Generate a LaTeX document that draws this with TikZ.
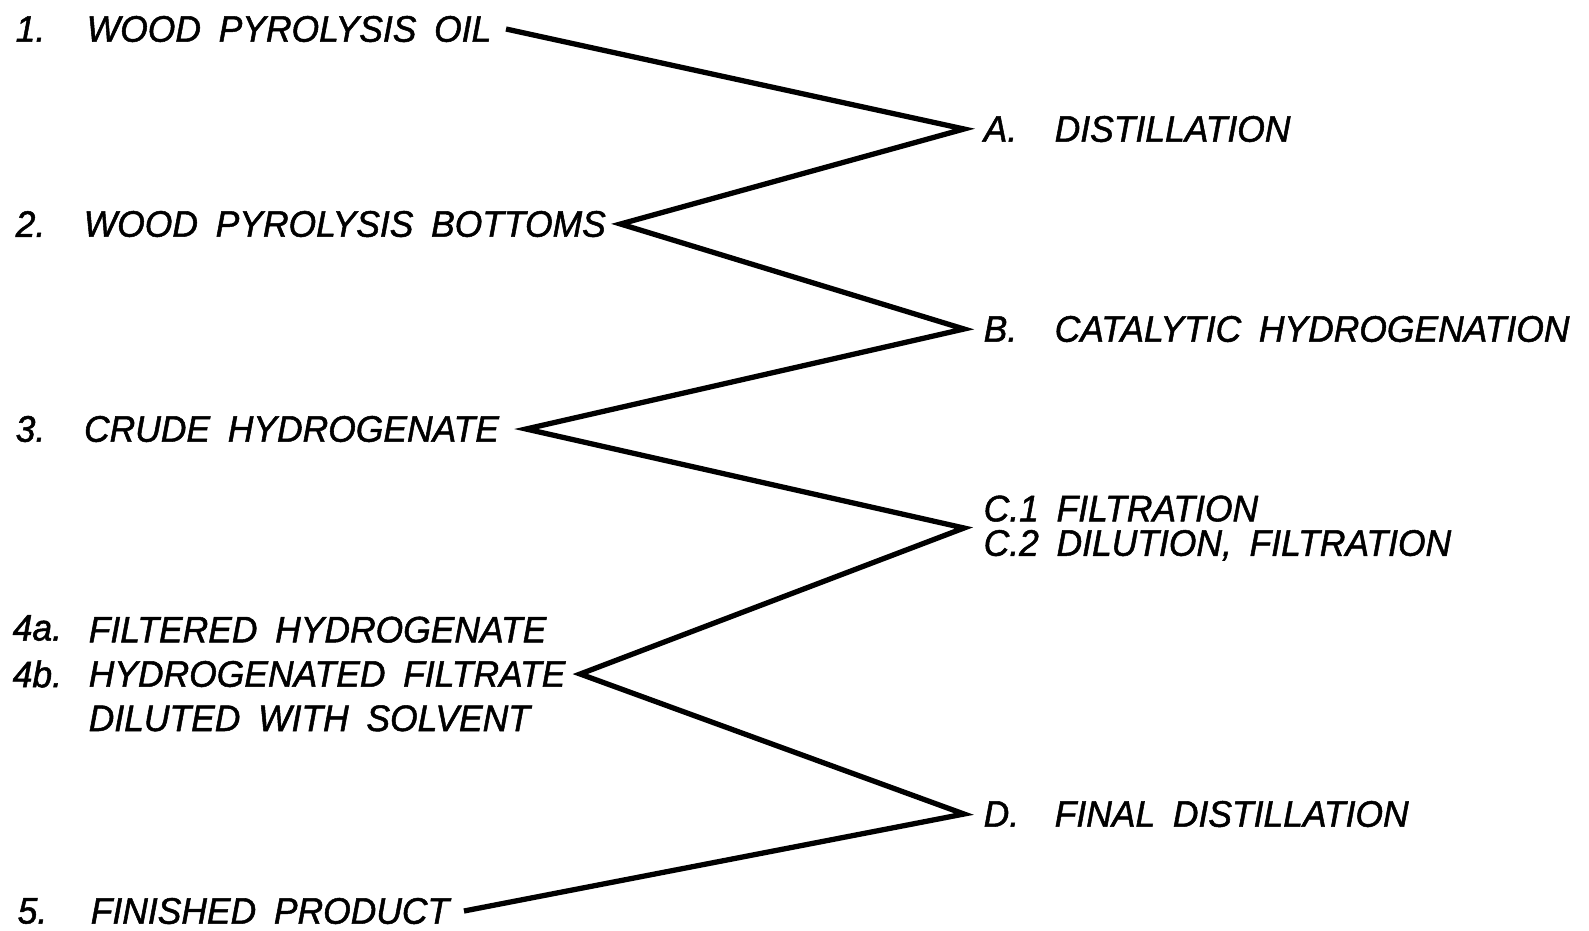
\documentclass[tikz,border=0pt]{standalone}
\usepackage{fontspec}
\setmainfont{Liberation Sans}[FakeStretch=0.96, WordSpace=1.8, FakeBold=1.4]
\usepackage{tikz}
\usetikzlibrary{positioning}
\tikzset{
  num/.style={inner sep=0pt, anchor=west},
  feed/.style={inner xsep=4pt, inner ysep=0pt, anchor=west, align=left},
  stage/.style={inner xsep=5.4pt, inner ysep=0pt, anchor=west, align=left},
  zig/.style={line width=1.5pt, line join=miter, miter limit=12}
}

\begin{document}
\begin{tikzpicture}[x=0.01cm, y=-0.01cm, font=\fontsize{10.5}{12.6}\selectfont\itshape]
  \useasboundingbox (0,0) rectangle (1589,930);
  % left column: products
  \node[num] (n1) at (15,29) {1.};
  \node[feed] (t1) at (72,29) {WOOD PYROLYSIS OIL};
  \node[num] (n2) at (15,224) {2.};
  \node[feed] (t2) at (69,224) {WOOD PYROLYSIS BOTTOMS};
  \node[num] (n3) at (15,429) {3.};
  \node[feed, inner xsep=7.5pt] (t3) at (57,429) {CRUDE HYDROGENATE};
  \node[num] (n4a) at (12,628) {4a.};
  \node[num] (n4b) at (12,674) {4b.};
  \node[feed] (t4) at (74,674) {FILTERED HYDROGENATE\\HYDROGENATED FILTRATE\\DILUTED WITH SOLVENT};
  \node[num] (n5) at (17,911) {5.};
  \node[feed] (t5) at (76,911) {FINISHED PRODUCT};
  % right column: steps
  \node[stage] (kA) at (964,129) {A.};
  \node[num] (sA) at (1054,129) {DISTILLATION};
  \node[stage] (kB) at (964,329) {B.};
  \node[num] (sB) at (1054,329) {CATALYTIC HYDROGENATION};
  \node[stage] (kC) at (964,528) {C.1 FILTRATION\\[-2.8pt]C.2 DILUTION, FILTRATION};
  \node[stage] (kD) at (964,814) {D.};
  \node[num] (sD) at (1054,814) {FINAL DISTILLATION};
  % zigzag
  \draw[zig] (t1.east) -- (kA.west) -- (t2.east) -- (kB.west) -- (t3.east)
    -- (kC.west) -- (t4.east) -- (kD.west) -- (t5.east);
\end{tikzpicture}
\end{document}
